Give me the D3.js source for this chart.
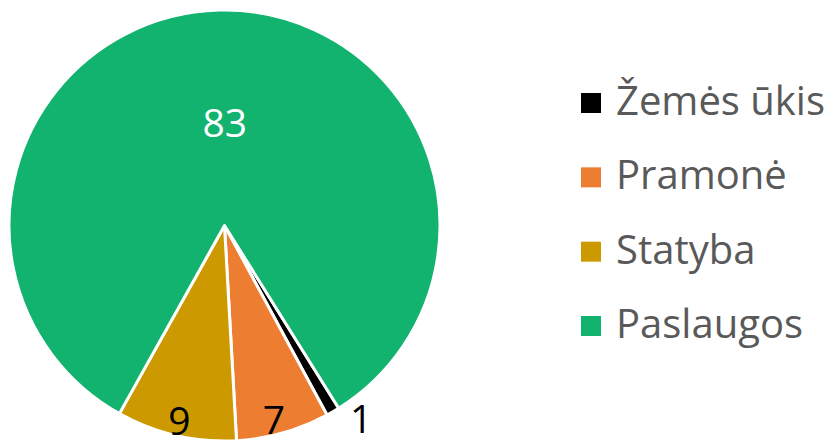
<!DOCTYPE html>
<html>
<head>
<meta charset="utf-8">
<script src="https://cdn.jsdelivr.net/npm/d3@7"></script>
<style>
  html, body { margin: 0; padding: 0; background: #fff; }
  svg { display: block; }
  text { font-family: "Open Sans", "Noto Sans", sans-serif; }
</style>
</head>
<body>
<script>
// Data
const categories = ["Žemės ūkis", "Pramonė", "Statyba", "Paslaugos"];
const values = [1, 7, 9, 83];
const colors = ["#000000", "#ED7D31", "#CC9900", "#12B26F"];
const labelColors = ["#000000", "#000000", "#000000", "#FFFFFF"];

const W = 838, H = 446;
const cx = 224.5, cy = 225.5, R = 215.5;
const startDeg = 148;

const svg = d3.select("body").append("svg").attr("width", W).attr("height", H);

const pie = d3.pie().sort(null).value(d => d)
  .startAngle(startDeg * Math.PI / 180)
  .endAngle(startDeg * Math.PI / 180 + 2 * Math.PI);
const arcs = pie(values);
const arc = d3.arc().innerRadius(0).outerRadius(R);

const g = svg.append("g").attr("transform", `translate(${cx},${cy})`);
g.selectAll("path").data(arcs).join("path")
  .attr("d", arc)
  .attr("fill", (d, i) => colors[i])
  .attr("stroke", "#fff")
  .attr("stroke-width", 3)
  .attr("stroke-linejoin", "round");

// label placement: radius factor and angle nudge (deg)
const labelR = [1.1, 0.93, 0.93, 0.475];
const labelNudge = [-5, 1.5, 0, 1.5];
g.selectAll("text.lbl").data(arcs).join("text")
  .attr("class", "lbl")
  .attr("transform", (d, i) => {
    const a = (d.startAngle + d.endAngle) / 2 + labelNudge[i] * Math.PI / 180;
    const r = labelR[i] * R;
    return `translate(${r * Math.sin(a)},${-r * Math.cos(a)})`;
  })
  .attr("text-anchor", "middle")
  .attr("dy", "0.36em")
  .attr("font-size", 39)
  .attr("fill", (d, i) => labelColors[i])
  .text((d, i) => values[i]);

// Legend
const legend = svg.append("g");
const rowY = d3.scalePoint().domain(categories).range([115, 338]);
const rows = legend.selectAll("g").data(categories).join("g")
  .attr("transform", d => `translate(0,${rowY(d)})`);
rows.append("rect")
  .attr("x", 581).attr("y", -22).attr("width", 20).attr("height", 20)
  .attr("fill", (d, i) => colors[i]);
rows.append("text")
  .attr("x", 616).attr("y", 0)
  .attr("font-size", 40)
  .attr("fill", "#595959")
  .text(d => d);
</script>
</body>
</html>
